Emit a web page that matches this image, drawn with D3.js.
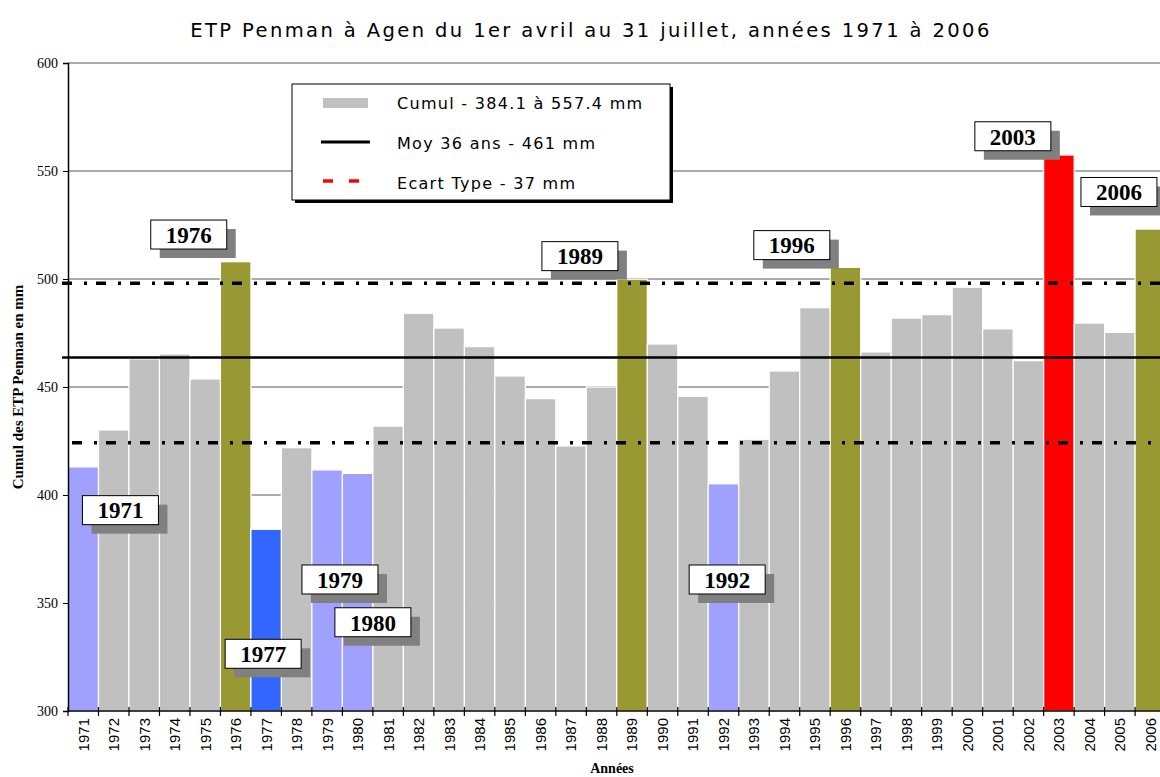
<!DOCTYPE html>
<html>
<head>
<meta charset="utf-8">
<script src="https://cdn.jsdelivr.net/npm/d3@7"></script>
<style>
  html, body { margin: 0; padding: 0; background: #fff; }
  svg { display: block; }
</style>
</head>
<body>
<svg id="chart" width="1160" height="777"></svg>
<script>
// ---------- DATA ----------
const years = [1971,1972,1973,1974,1975,1976,1977,1978,1979,1980,1981,1982,1983,1984,1985,1986,1987,1988,
               1989,1990,1991,1992,1993,1994,1995,1996,1997,1998,1999,2000,2001,2002,2003,2004,2005,2006];
const cumul = [413.0,430.1,463.0,465.3,453.7,508.0,384.1,421.9,411.6,410.0,431.9,484.1,477.3,468.7,455.1,444.6,422.7,450.0,
               499.9,469.9,445.7,405.2,425.8,457.4,486.7,505.4,466.2,481.9,483.5,496.2,476.9,462.2,557.4,479.6,475.3,523.1];
const highYears = [1976, 1989, 1996, 2006];
const lowYears = [1971, 1979, 1980, 1992];
const minYear = 1977;
const maxYear = 2003;
const meanLine = 463.6;
const sdUpper = 498.0;
const sdLower = 424.2;
const yTicks = [300, 350, 400, 450, 500, 550, 600];
const legendLabels = ["Cumul - 384.1 à 557.4 mm", "Moy 36 ans - 461 mm", "Ecart Type - 37 mm"];
// annotation boxes: year, horizontal offset (in bands) of box centre, value at box top
const notes = [
  {year: 1971, dx: 1.22, v: 399.7},
  {year: 1976, dx: -1.54, v: 527.3},
  {year: 1977, dx: -0.10, v: 333.2},
  {year: 1979, dx: 0.42, v: 367.6},
  {year: 1980, dx: 0.50, v: 347.8},
  {year: 1989, dx: -1.71, v: 517.3},
  {year: 1992, dx: 0.12, v: 367.6},
  {year: 1996, dx: -1.76, v: 522.4},
  {year: 2003, dx: -1.51, v: 572.8},
  {year: 2006, dx: -1.03, v: 547.0}
];
const title = "ETP Penman à Agen du 1er avril au 31 juillet, années 1971 à 2006";
const yTitle = "Cumul des ETP Penman en mm";
const xTitle = "Années";

// ---------- LAYOUT ----------
const L = 68, R = 1165.6, T = 63, B = 711;
const svg = d3.select("#chart");
const x = d3.scaleBand().domain(years).range([L, R]).padding(0);
const y = d3.scaleLinear().domain([300, 600]).range([B, T]);
const data = years.map((yr, i) => ({year: yr, v: cumul[i]}));

function color(yr) {
  if (yr === maxYear) return "#FF0000";
  if (yr === minYear) return "#3366FF";
  if (highYears.includes(yr)) return "#999933";
  if (lowYears.includes(yr)) return "#A0A0FF";
  return "#C0C0C0";
}

// gridlines
svg.append("g").selectAll("line").data(yTicks.filter(d => d > 300)).join("line")
  .attr("x1", L).attr("x2", 1160)
  .attr("y1", d => y(d)).attr("y2", d => y(d))
  .attr("stroke", "#5a5a5a").attr("stroke-width", 1);

// bars
svg.append("g").selectAll("rect").data(data).join("rect")
  .attr("x", d => x(d.year))
  .attr("width", x.bandwidth())
  .attr("y", d => y(d.v))
  .attr("height", d => B - y(d.v))
  .attr("fill", d => color(d.year))
  .attr("stroke", "#fff").attr("stroke-width", 1.2);

// reference lines
svg.append("line").attr("x1", 62).attr("x2", 1160)
  .attr("y1", y(meanLine)).attr("y2", y(meanLine))
  .attr("stroke", "#000").attr("stroke-width", 2.5);
svg.append("line").attr("x1", 62).attr("x2", 1160)
  .attr("y1", y(sdUpper)).attr("y2", y(sdUpper))
  .attr("stroke", "#000").attr("stroke-width", 3.6)
  .attr("stroke-dasharray", "10,12,3,9");
svg.append("line").attr("x1", 72).attr("x2", 1160)
  .attr("y1", y(sdLower)).attr("y2", y(sdLower))
  .attr("stroke", "#000").attr("stroke-width", 3.6)
  .attr("stroke-dasharray", "10,12,3,9");

// y axis
const yAxis = svg.append("g").attr("transform", `translate(${L},0)`)
  .call(d3.axisLeft(y).tickValues(yTicks).tickSize(5).tickPadding(5).tickFormat(d3.format("d")));
yAxis.select(".domain").attr("stroke", "#000").attr("stroke-width", 1.5);
yAxis.selectAll(".tick line").attr("stroke", "#000");
yAxis.selectAll(".tick text").attr("font-family", "'Liberation Serif', serif").attr("font-size", 14).attr("fill", "#000");

// x axis
const xAxis = svg.append("g").attr("transform", `translate(0,${B})`)
  .call(d3.axisBottom(x).tickSize(0).tickPadding(0));
xAxis.select(".domain").remove();
xAxis.selectAll(".tick text")
  .attr("font-family", "'Liberation Sans', Arial, sans-serif").attr("font-size", 15).attr("fill", "#000")
  .attr("transform", "rotate(-90)")
  .attr("text-anchor", "end")
  .attr("x", -7).attr("y", 0).attr("dy", "0.36em");
svg.append("line").attr("x1", L).attr("x2", 1160).attr("y1", B).attr("y2", B)
  .attr("stroke", "#000").attr("stroke-width", 1.5);
const bounds = years.map(yr => x(yr)).concat([R]);
svg.append("g").selectAll("line").data(bounds).join("line")
  .attr("x1", d => d).attr("x2", d => d).attr("y1", B - 4).attr("y2", B + 5)
  .attr("stroke", "#000").attr("stroke-width", 1.2);

// annotation labels
const bw = 76, bh = 29;
const ng = svg.append("g").selectAll("g").data(notes).join("g")
  .attr("transform", d => `translate(${x(d.year) + x.bandwidth() / 2 + d.dx * x.bandwidth() - bw / 2},${y(d.v)})`);
ng.append("rect").attr("x", 9).attr("y", 9).attr("width", bw).attr("height", bh).attr("fill", "#808080");
ng.append("rect").attr("width", bw).attr("height", bh).attr("fill", "#fff").attr("stroke", "#000").attr("stroke-width", 1);
ng.append("text").attr("x", bw / 2).attr("y", bh / 2).attr("dy", "0.36em")
  .attr("text-anchor", "middle")
  .attr("font-family", "'Liberation Serif', 'Times New Roman', serif").attr("font-weight", "bold")
  .attr("font-size", 23).attr("fill", "#000")
  .text(d => d.year);

// legend
const lg = svg.append("g").attr("transform", "translate(292,84)");
lg.append("rect").attr("x", 3).attr("y", 3).attr("width", 378).attr("height", 116).attr("fill", "#000");
lg.append("rect").attr("width", 378).attr("height", 116).attr("fill", "#fff").attr("stroke", "#000").attr("stroke-width", 1);
lg.append("rect").attr("x", 31).attr("y", 14).attr("width", 45).attr("height", 10).attr("fill", "#C0C0C0");
lg.append("line").attr("x1", 29).attr("x2", 78).attr("y1", 58).attr("y2", 58).attr("stroke", "#000").attr("stroke-width", 3);
lg.append("line").attr("x1", 31).attr("x2", 68).attr("y1", 97).attr("y2", 97).attr("stroke", "#FF0000")
  .attr("stroke-width", 3.5).attr("stroke-dasharray", "10,16");
lg.selectAll("text").data(legendLabels).join("text")
  .attr("x", 105).attr("y", (d, i) => 19 + i * 40).attr("dy", "0.36em")
  .attr("font-family", "'DejaVu Sans', Verdana, sans-serif").attr("font-size", 16)
  .attr("letter-spacing", 1.3).attr("fill", "#000")
  .text(d => d);

// titles
svg.append("text").attr("x", 591).attr("y", 30).attr("dy", "0.36em").attr("text-anchor", "middle")
  .attr("font-family", "'DejaVu Sans', Verdana, sans-serif").attr("font-size", 19.5)
  .attr("letter-spacing", 2.4).attr("fill", "#000").text(title);
svg.append("text").attr("transform", "translate(18,387) rotate(-90)").attr("text-anchor", "middle")
  .attr("dy", "0.36em")
  .attr("font-family", "'Liberation Serif', 'Times New Roman', serif").attr("font-weight", "bold")
  .attr("font-size", 15).attr("fill", "#000").text(yTitle);
svg.append("text").attr("x", 612).attr("y", 768).attr("dy", "0.36em").attr("text-anchor", "middle")
  .attr("font-family", "'Liberation Serif', 'Times New Roman', serif").attr("font-weight", "bold")
  .attr("font-size", 14).attr("fill", "#000").text(xTitle);
</script>
</body>
</html>
